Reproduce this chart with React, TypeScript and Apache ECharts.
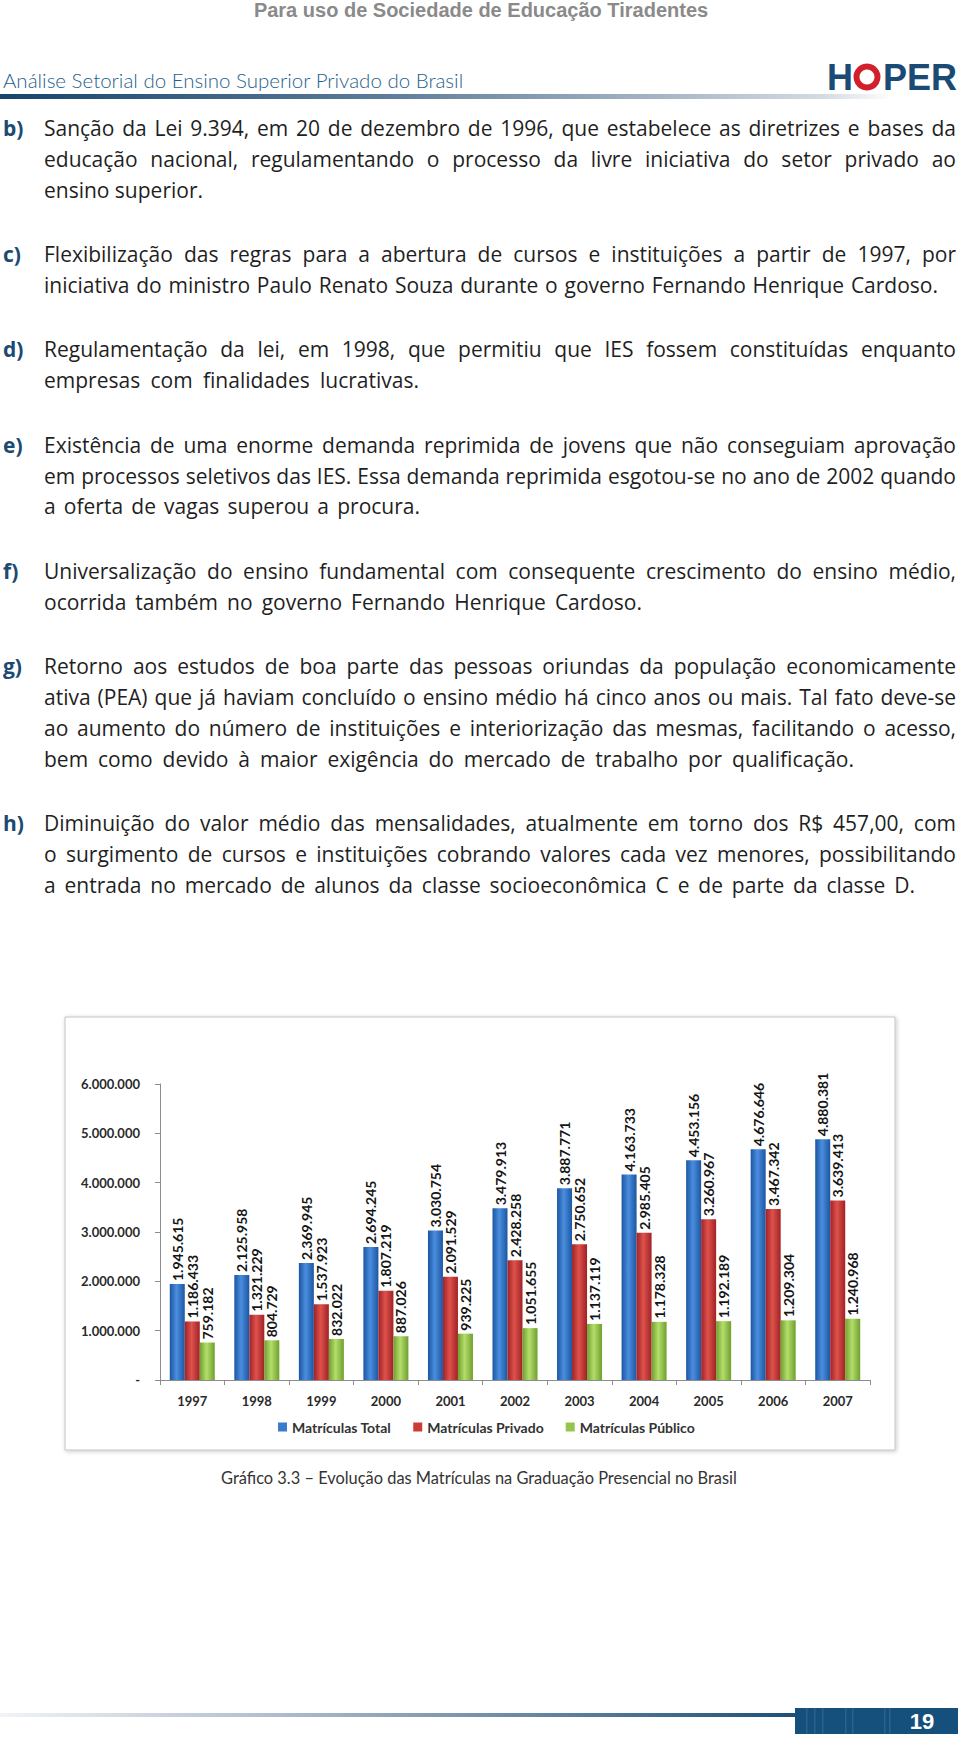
import React, { useEffect, useRef } from 'react';
import * as echarts from 'echarts';

// ---------- chart data ----------
const years = ['1997', '1998', '1999', '2000', '2001', '2002', '2003', '2004', '2005', '2006', '2007'];
const total = [1945615, 2125958, 2369945, 2694245, 3030754, 3479913, 3887771, 4163733, 4453156, 4676646, 4880381];
const privado = [1186433, 1321229, 1537923, 1807219, 2091529, 2428258, 2750652, 2985405, 3260967, 3467342, 3639413];
const publico = [759182, 804729, 832022, 887026, 939225, 1051655, 1137119, 1178328, 1192189, 1209304, 1240968];
const seriesNames = ['Matrículas Total', 'Matrículas Privado', 'Matrículas Público'];
const yMin = 0;
const yMax = 6000000;
const yStep = 1000000;

// ---------- page texts ----------
const headerTitle = 'Para uso de Sociedade de Educação Tiradentes';
const subTitle = 'Análise Setorial do Ensino Superior Privado do Brasil';
const caption = 'Gráfico 3.3 – Evolução das Matrículas na Graduação Presencial no Brasil';
const pageNumber = '19';

const paraLabels = ['b)', 'c)', 'd)', 'e)', 'f)', 'g)', 'h)'];
const paraLines: string[][] = [
  [
    'Sanção da Lei 9.394, em 20 de dezembro de 1996, que estabelece as diretrizes e bases da',
    'educação nacional, regulamentando o processo da livre iniciativa do setor privado ao',
    'ensino superior.',
  ],
  [
    'Flexibilização das regras para a abertura de cursos e instituições a partir de 1997, por',
    'iniciativa do ministro Paulo Renato Souza durante o governo Fernando Henrique Cardoso.',
  ],
  [
    'Regulamentação da lei, em 1998, que permitiu que IES fossem constituídas enquanto',
    'empresas com finalidades lucrativas.',
  ],
  [
    'Existência de uma enorme demanda reprimida de jovens que não conseguiam aprovação',
    'em processos seletivos das IES. Essa demanda reprimida esgotou-se no ano de 2002 quando',
    'a oferta de vagas superou a procura.',
  ],
  [
    'Universalização do ensino fundamental com consequente crescimento do ensino médio,',
    'ocorrida também no governo Fernando Henrique Cardoso.',
  ],
  [
    'Retorno aos estudos de boa parte das pessoas oriundas da população economicamente',
    'ativa (PEA) que já haviam concluído o ensino médio há cinco anos ou mais. Tal fato deve-se',
    'ao aumento do número de instituições e interiorização das mesmas, facilitando o acesso,',
    'bem como devido à maior exigência do mercado de trabalho por qualificação.',
  ],
  [
    'Diminuição do valor médio das mensalidades, atualmente em torno dos R$ 457,00, com',
    'o surgimento de cursos e instituições cobrando valores cada vez menores, possibilitando',
    'a entrada no mercado de alunos da classe socioeconômica C e de parte da classe D.',
  ],
];

// ---------- layout (positions/styles) ----------
const TEXT_X = 44;
const TEXT_RIGHT = 956;
const LABEL_X = 3;
const FIRST_LINE_Y = 128;
const LINE_STEP = 30.8;
const PARA_STEP = 64.5;
const LAST_LINE_END = [203, 938, 419, 420, 642, 854, 915];
const BODY_FONT_SIZE = 21;
const BODY_FAMILY = '"Open Sans", "Noto Sans", sans-serif';

const fmt = (v: number) => (v === 0 ? '-' : String(v).replace(/\B(?=(\d{3})+(?!\d))/g, '.'));

let measureCtx: CanvasRenderingContext2D | null = null;
function measure(text: string, font: string): number {
  if (!measureCtx) measureCtx = document.createElement('canvas').getContext('2d');
  if (!measureCtx) return text.length * 10;
  measureCtx.font = font;
  return measureCtx.measureText(text).width;
}

function BodyLine(props: { text: string; y: number; end: number }) {
  const { text, y, end } = props;
  const font = `${BODY_FONT_SIZE}px ${BODY_FAMILY}`;
  const natural = measure(text, font);
  const target = end - TEXT_X;
  const spaces = (text.match(/ /g) || []).length;
  const ws = spaces ? (target - natural) / spaces : 0;
  const style: React.CSSProperties = {
    position: 'absolute',
    left: TEXT_X,
    top: y - 15,
    height: 30,
    lineHeight: '30px',
    whiteSpace: 'pre',
    fontFamily: BODY_FAMILY,
    fontSize: BODY_FONT_SIZE,
    color: '#1f1f1f',
  };
  if (ws < -1) {
    style.transform = `scaleX(${target / natural})`;
    style.transformOrigin = '0 50%';
  } else {
    style.wordSpacing = `${ws}px`;
  }
  return <div style={style}>{text}</div>;
}

function Body() {
  const items: React.ReactNode[] = [];
  let y = FIRST_LINE_Y;
  paraLines.forEach((lines, pi) => {
    items.push(
      <div
        key={'l' + pi}
        style={{
          position: 'absolute',
          left: LABEL_X,
          top: y - 15,
          height: 30,
          lineHeight: '30px',
          fontFamily: BODY_FAMILY,
          fontSize: BODY_FONT_SIZE,
          fontWeight: 700,
          color: '#1b4a72',
          whiteSpace: 'pre',
        }}
      >
        {paraLabels[pi]}
      </div>
    );
    lines.forEach((t, li) => {
      const isLast = li === lines.length - 1;
      items.push(
        <BodyLine key={pi + '-' + li} text={t} y={y + li * LINE_STEP} end={isLast ? LAST_LINE_END[pi] : TEXT_RIGHT} />
      );
    });
    y = y + (lines.length - 1) * LINE_STEP + PARA_STEP;
  });
  return <>{items}</>;
}

export default function App() {
  const ref = useRef<HTMLDivElement>(null);

  useEffect(() => {
    if (!ref.current) return;
    const chart = echarts.init(ref.current, null, { renderer: 'svg' });
    const grad = (a: string, b: string, c: string) =>
      new echarts.graphic.LinearGradient(0, 0, 1, 0, [
        { offset: 0, color: a },
        { offset: 0.45, color: b },
        { offset: 1, color: c },
      ]);
    const fills = [
      grad('#1b55a3', '#4b8ede', '#1c56a3'),
      grad('#a02226', '#de524b', '#a02226'),
      grad('#6f9f2e', '#b4de6c', '#6f9f2e'),
    ];
    const solid = ['#3a7bd0', '#cc3c37', '#94c64c'];
    const dataSets = [total, privado, publico];
    const labelFont = 'Lato, "Open Sans", sans-serif';

    const stripes = [806, 814, 822, 845, 852, 884, 889].map((sx) => ({
      type: 'rect',
      shape: { x: sx, y: 1708, width: 1.5, height: 26 },
      style: { fill: 'rgba(255,255,255,0.10)' },
    }));

    const option: any = {
      animation: false,
      color: solid,
      grid: { left: 160, top: 1084, width: 710, height: 296 },
      legend: {
        top: 1415,
        left: 273,
        itemWidth: 9,
        itemHeight: 9,
        itemGap: 22,
        icon: 'rect',
        textStyle: { fontFamily: labelFont, fontWeight: 'bold', fontSize: 14, color: '#333' },
        data: seriesNames.map((n, i) => ({ name: n, itemStyle: { color: solid[i] } })),
      },
      xAxis: {
        type: 'category',
        data: years,
        axisLine: { lineStyle: { color: '#8c8c8c', width: 1 } },
        axisTick: { show: true, length: 5, lineStyle: { color: '#8c8c8c' } },
        axisLabel: { margin: 14, fontFamily: labelFont, fontWeight: 'bold', fontSize: 13, color: '#2a2a2a' },
      },
      yAxis: {
        type: 'value',
        min: yMin,
        max: yMax,
        interval: yStep,
        axisLine: { show: true, lineStyle: { color: '#8c8c8c', width: 1 } },
        axisTick: { show: true, length: 5, lineStyle: { color: '#8c8c8c' } },
        splitLine: { show: false },
        axisLabel: {
          margin: 20,
          formatter: (v: number) => fmt(v),
          fontFamily: labelFont,
          fontWeight: 'bold',
          fontSize: 13,
          color: '#2a2a2a',
        },
      },
      series: seriesNames.map((name, i) => ({
        name,
        type: 'bar',
        data: dataSets[i],
        barWidth: 15,
        barGap: '0%',
        itemStyle: { color: fills[i] },
        label: {
          show: true,
          position: 'top',
          rotate: 90,
          align: 'left',
          verticalAlign: 'middle',
          distance: 3,
          fontFamily: labelFont,
          fontWeight: 'bold',
          fontSize: 14,
          color: '#151515',
          formatter: (p: any) => fmt(p.value),
        },
      })),
      graphic: [
        // chart frame
        {
          type: 'rect',
          z: -10,
          shape: { x: 65, y: 1017, width: 830, height: 433 },
          style: {
            fill: '#ffffff',
            stroke: '#c4c4c4',
            lineWidth: 1,
            shadowBlur: 4,
            shadowColor: 'rgba(0,0,0,0.22)',
            shadowOffsetX: 1,
            shadowOffsetY: 1,
          },
        },
        // header title
        {
          type: 'text',
          x: 481,
          y: 10,
          style: {
            text: headerTitle,
            fill: '#8a8a8a',
            font: 'bold 20px "Liberation Sans", Arial, sans-serif',
            align: 'center',
            verticalAlign: 'middle',
            textAlign: 'center',
            textVerticalAlign: 'middle',
          },
        },
        // subtitle
        {
          type: 'text',
          x: 3,
          y: 80,
          style: {
            text: subTitle,
            fill: '#1f5f8b',
            font: '300 20.5px Lato, sans-serif',
            align: 'left',
            verticalAlign: 'middle',
            textAlign: 'left',
            textVerticalAlign: 'middle',
          },
        },
        // logo
        {
          type: 'text',
          x: 827,
          y: 77,
          style: {
            text: 'H',
            fill: '#1b4a74',
            font: 'bold 36px "Liberation Sans", Arial, sans-serif',
            align: 'left',
            verticalAlign: 'middle',
            textAlign: 'left',
            textVerticalAlign: 'middle',
          },
        },
        {
          type: 'ring',
          shape: { cx: 867, cy: 77, r: 13.5, r0: 7.5 },
          style: { fill: '#d2202a' },
        },
        {
          type: 'text',
          x: 883,
          y: 77,
          style: {
            text: 'PER',
            fill: '#1b4a74',
            font: 'bold 36px "Liberation Sans", Arial, sans-serif',
            align: 'left',
            verticalAlign: 'middle',
            textAlign: 'left',
            textVerticalAlign: 'middle',
          },
        },
        // header bar
        {
          type: 'rect',
          shape: { x: 0, y: 94, width: 960, height: 5 },
          style: {
            fill: new echarts.graphic.LinearGradient(0, 0, 1, 0, [
              { offset: 0, color: '#17456d' },
              { offset: 0.4, color: '#5c7c9a' },
              { offset: 0.7, color: '#a9b8c7' },
              { offset: 0.86, color: '#d5dce3' },
              { offset: 0.93, color: '#ffffff' },
            ]),
          },
        },
        // caption
        {
          type: 'text',
          x: 479,
          y: 1477,
          style: {
            text: caption,
            fill: '#333333',
            font: '16.4px Lato, sans-serif',
            align: 'center',
            verticalAlign: 'middle',
            textAlign: 'center',
            textVerticalAlign: 'middle',
          },
        },
        // footer bar
        {
          type: 'rect',
          shape: { x: 0, y: 1713, width: 797, height: 4 },
          style: {
            fill: new echarts.graphic.LinearGradient(0, 0, 1, 0, [
              { offset: 0, color: '#f2f4f6' },
              { offset: 0.35, color: '#aebccb' },
              { offset: 1, color: '#1d4f77' },
            ]),
          },
        },
        {
          type: 'rect',
          shape: { x: 795, y: 1708, width: 163, height: 26 },
          style: { fill: '#15507d' },
        },
        ...stripes,
        {
          type: 'text',
          x: 922,
          y: 1721,
          style: {
            text: pageNumber,
            fill: '#ffffff',
            font: 'bold 22px "Liberation Sans", Arial, sans-serif',
            align: 'center',
            verticalAlign: 'middle',
            textAlign: 'center',
            textVerticalAlign: 'middle',
          },
        },
      ],
    };
    chart.setOption(option);
    return () => chart.dispose();
  }, []);

  return (
    <div style={{ position: 'absolute', left: 0, top: 0, width: 960, height: 1737, background: '#fff' }}>
      <div ref={ref} style={{ position: 'absolute', left: 0, top: 0, width: 960, height: 1737 }} />
      <div style={{ position: 'absolute', left: 0, top: 0, width: 960, height: 1000, pointerEvents: 'none' }}>
        <Body />
      </div>
    </div>
  );
}
